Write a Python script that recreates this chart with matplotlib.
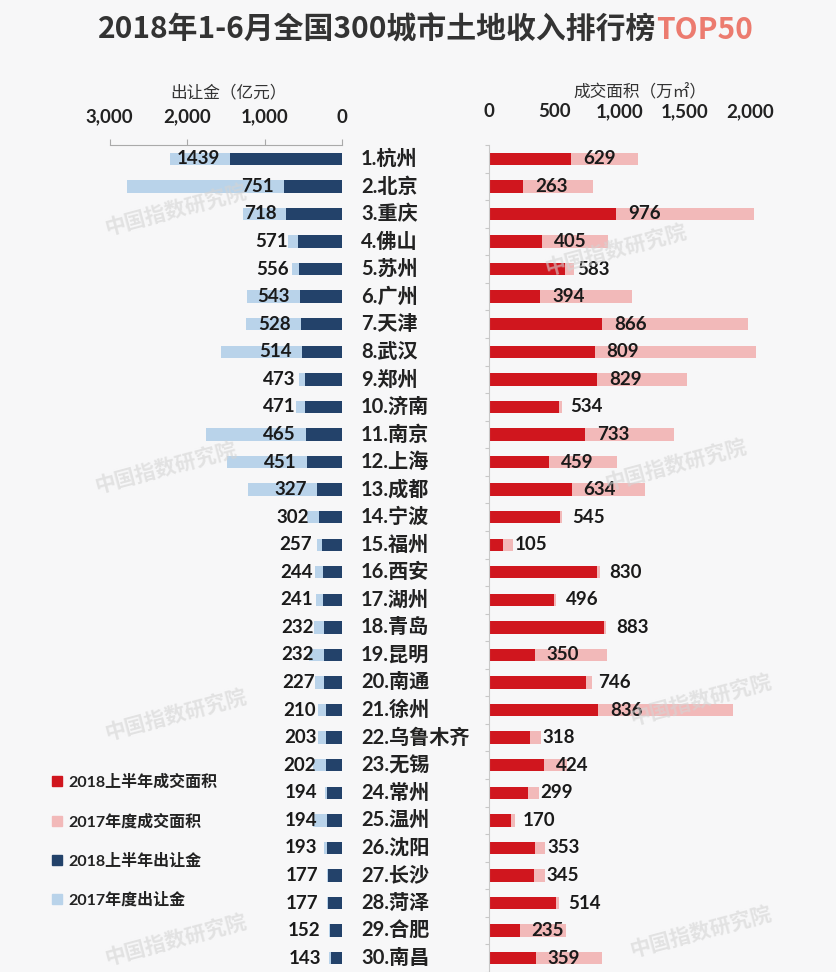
import numpy as np
import matplotlib
matplotlib.use('Agg')
import matplotlib.pyplot as plt
from matplotlib.patches import Patch

plt.rcParams['font.family'] = ['Lato', 'Noto Sans CJK SC', 'DejaVu Sans']

# data
cities = ['杭州', '北京', '重庆', '佛山', '苏州', '广州', '天津', '武汉', '郑州', '济南',
          '南京', '上海', '成都', '宁波', '福州', '西安', '湖州', '青岛', '昆明', '南通',
          '徐州', '乌鲁木齐', '无锡', '常州', '温州', '沈阳', '长沙', '菏泽', '合肥', '南昌']
money_2018 = [1439, 751, 718, 571, 556, 543, 528, 514, 473, 471,
              465, 451, 327, 302, 257, 244, 241, 232, 232, 227,
              210, 203, 202, 194, 194, 193, 177, 177, 152, 143]
money_2017 = [2220, 2780, 1280, 700, 650, 1220, 1240, 1560, 550, 600,
              1755, 1485, 1210, 450, 320, 350, 340, 360, 420, 350,
              310, 310, 370, 220, 370, 230, 200, 190, 170, 170]
area_2018 = [629, 263, 976, 405, 583, 394, 866, 809, 829, 534,
             733, 459, 634, 545, 105, 830, 496, 883, 350, 746,
             836, 318, 424, 299, 170, 353, 345, 514, 235, 359]
area_2017 = [1140, 800, 2030, 910, 650, 1095, 1985, 2045, 1515, 560,
             1420, 980, 1195, 560, 185, 850, 510, 900, 905, 790,
             1870, 400, 600, 380, 200, 430, 430, 540, 590, 865]
legend_labels = ['2018上半年成交面积', '2017年度成交面积', '2018上半年出让金', '2017年度出让金']

W, H = 836, 972
fig = plt.figure(figsize=(W / 100, H / 100), dpi=100, facecolor='#f7f7f8')

def px(x0, y0, x1, y1):
    # pixel box -> figure fraction rect
    return [x0 / W, 1 - y1 / H, (x1 - x0) / W, (y1 - y0) / H]

y = np.arange(len(cities))
bar_h = 0.45

dark_blue = '#23426a'
light_blue = '#b9d3ea'
red = '#d0161e'
pink = '#f2b9b9'

# left: land revenue
axl = fig.add_axes(px(109.5, 145, 342, 972))
axl.barh(y, money_2017, height=bar_h, color=light_blue, zorder=1)
axl.barh(y, money_2018, height=bar_h, color=dark_blue, zorder=2)
axl.set_xlim(3000, 0)
axl.set_ylim(len(cities) - 0.5, -0.5)
axl.set_facecolor('none')
for s in ['left', 'right', 'bottom']:
    axl.spines[s].set_visible(False)
axl.spines['top'].set_color('#aaaaaa')
axl.spines['top'].set_linewidth(0.8)
axl.xaxis.tick_top()
axl.set_xticks([3000, 2000, 1000, 0])
axl.set_xticklabels(['3,000', '2,000', '1,000', '0'])
axl.tick_params(axis='x', direction='out', length=4, color='#aaaaaa', pad=10,
                labelsize=13.5, labelcolor='#222222')
for lab in axl.get_xticklabels():
    lab.set_fontweight('bold')
axl.set_yticks([])
for i, v in enumerate(money_2018):
    axl.annotate(str(v), xy=(v, i), xytext=(-10, 0), textcoords='offset pixels',
                 ha='right', va='center', fontsize=13.5, fontweight='bold', color='#1a1a1a', zorder=5)

# right: transacted area
axr = fig.add_axes(px(489, 145, 489 + 2100 * 0.1305, 972))
axr.barh(y, area_2017, height=bar_h, color=pink, zorder=1)
axr.barh(y, area_2018, height=bar_h, color=red, zorder=2)
axr.set_xlim(0, 2100)
axr.set_ylim(len(cities) - 0.5, -0.5)
axr.set_facecolor('none')
for s in ['top', 'right', 'bottom']:
    axr.spines[s].set_visible(False)
axr.spines['left'].set_color('#c8c8c8')
axr.spines['left'].set_linewidth(0.8)
axr.xaxis.tick_top()
axr.set_xticks([0, 500, 1000, 1500, 2000])
axr.set_xticklabels(['0', '500', '1,000', '1,500', '2,000'])
axr.tick_params(axis='x', length=0, pad=18, labelsize=13.5, labelcolor='#222222')
for lab in axr.get_xticklabels():
    lab.set_fontweight('bold')
axr.set_yticks(np.arange(-0.5, len(cities), 1))
axr.set_yticklabels([])
axr.tick_params(axis='y', direction='out', length=3, color='#c8c8c8')
for i, v in enumerate(area_2018):
    axr.annotate(str(v), xy=(v, i), xytext=(12, 0), textcoords='offset pixels',
                 ha='left', va='center', fontsize=13.5, fontweight='bold', color='#1a1a1a', zorder=5)

# city names in the middle
for i, c in enumerate(cities):
    yc = 159 + i * (958 - 159) / 29
    fig.text(361 / W, 1 - yc / H, f'{i + 1}.{c}', ha='left', va='center',
             fontsize=14.5, fontweight='bold', color='#222222',
             family=['Lato', 'Noto Sans CJK SC'])

# title
fig.text(656 / W, 1 - 30 / H, '2018年1-6月全国300城市土地收入排行榜', ha='right', va='center',
         fontsize=21.5, fontweight='bold', color='#333333', family=['Noto Sans CJK SC'])
fig.text(656 / W, 1 - 30 / H, 'TOP50', ha='left', va='center',
         fontsize=21.5, fontweight='bold', color='#ec7b6f', family=['Noto Sans CJK SC'])

# axis titles
fig.text(228 / W, 1 - 93 / H, '出让金（亿元）', ha='center', va='center',
         fontsize=12, color='#333333', family=['Noto Sans CJK SC'])
fig.text(640 / W, 1 - 93 / H, '成交面积（万㎡）', ha='center', va='center',
         fontsize=12, color='#333333', family=['Noto Sans CJK SC', 'DejaVu Sans'])

# legend
handles = [Patch(color=red), Patch(color=pink), Patch(color=dark_blue), Patch(color=light_blue)]
leg = fig.legend(handles, legend_labels, loc='upper left', bbox_to_anchor=(38 / W, 1 - 760 / H),
                 frameon=False, fontsize=11.5, handlelength=0.6, handleheight=0.6,
                 handletextpad=0.4, labelspacing=1.5)
for t in leg.get_texts():
    t.set_fontweight('bold')
    t.set_color('#222222')

# faint watermarks
for wx, wy in [(175, 210), (615, 250), (165, 468), (675, 465),
               (175, 715), (700, 700), (175, 940), (700, 932)]:
    fig.text(wx / W, 1 - wy / H, '中国指数研究院', ha='center', va='center', rotation=15,
             fontsize=15, fontweight='bold', color='#d4d4d4', alpha=0.6,
             family=['Noto Sans CJK SC'])

fig.savefig('out.png', dpi=100, facecolor=fig.get_facecolor())
